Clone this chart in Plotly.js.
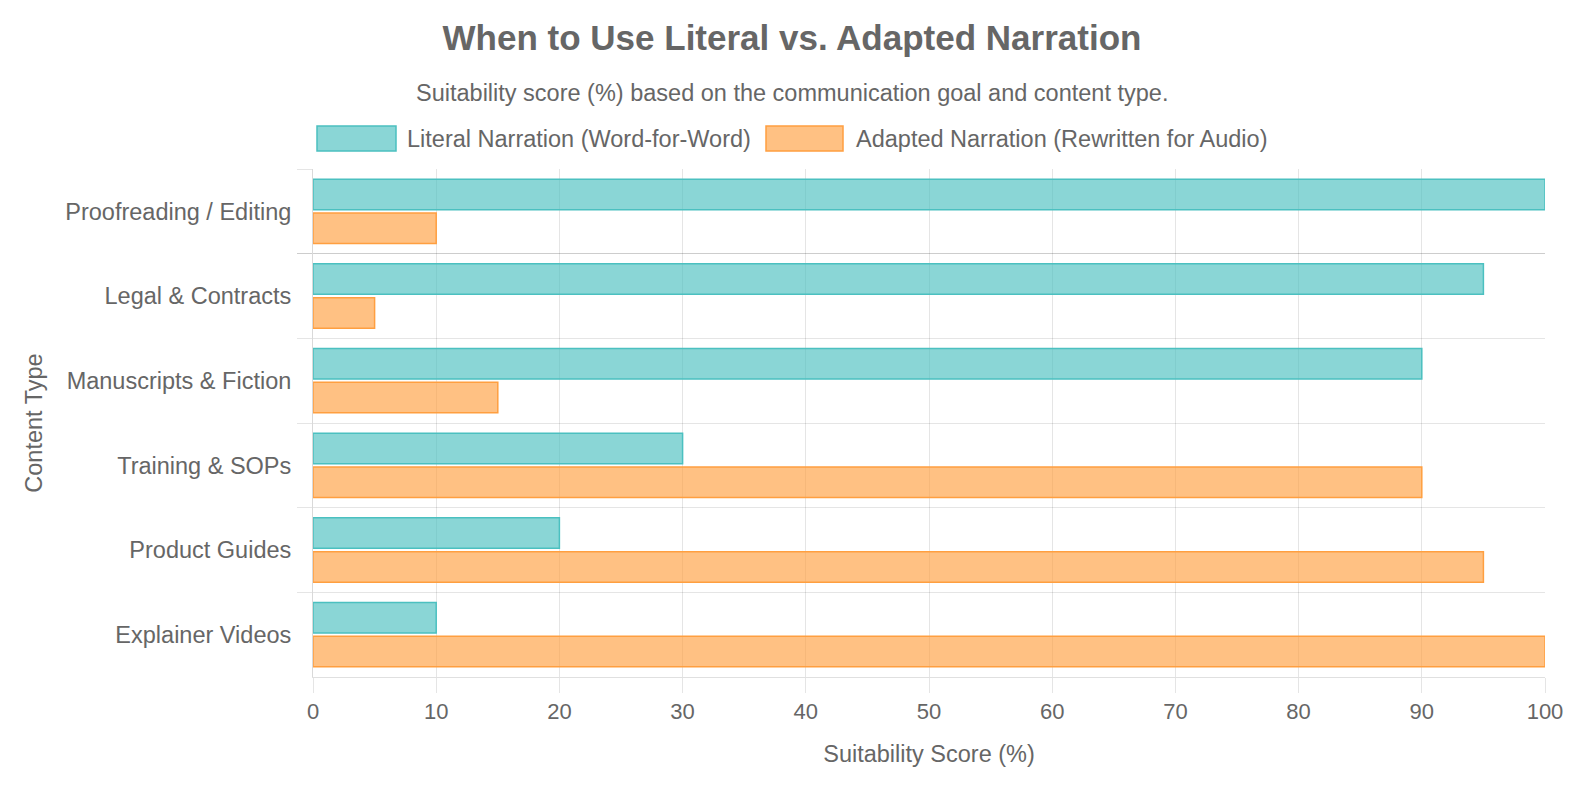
<!DOCTYPE html>
<html>
<head>
<meta charset="utf-8">
<script src="https://cdn.plot.ly/plotly-3.0.1.min.js"></script>
<style>
  html, body { margin: 0; padding: 0; background: #fff; }
  #chart { width: 1594px; height: 800px; }
</style>
</head>
<body>
<div id="chart"></div>
<script>
var categories = [
    'Proofreading / Editing',
    'Legal & Contracts',
    'Manuscripts & Fiction',
    'Training & SOPs',
    'Product Guides',
    'Explainer Videos'
];
var literal_scores = [100, 95, 90, 30, 20, 10];
var adapted_scores = [10, 5, 15, 90, 95, 100];
var series_names = ['Literal Narration (Word-for-Word)', 'Adapted Narration (Rewritten for Audio)'];

var FONT = '"Liberation Sans", Arial, Helvetica, sans-serif';
var GREY = '#666';
var FS = 23.5;

// plot area in pixels, used to place the hand-made legend
var L = 313, R = 1545, T = 169, B = 677;
function px(x) { return (x - L) / (R - L); }
function py(y) { return (B - y) / (B - T); }

var literal = {
    type: 'bar',
    orientation: 'h',
    name: series_names[0],
    y: categories,
    x: literal_scores,
    marker: {color: 'rgba(75,192,192,0.65)', line: {color: 'rgb(75,192,192)', width: 1.5}},
    showlegend: false,
    hoverinfo: 'x+name'
};

var adapted = {
    type: 'bar',
    orientation: 'h',
    name: series_names[1],
    y: categories,
    x: adapted_scores,
    marker: {color: 'rgba(255,159,64,0.65)', line: {color: 'rgb(255,159,64)', width: 1.5}},
    showlegend: false,
    hoverinfo: 'x+name'
};

var layout = {
    width: 1594,
    height: 800,
    paper_bgcolor: '#fff',
    plot_bgcolor: '#fff',
    font: {family: FONT, color: GREY, size: FS},
    margin: {l: L, r: 1594 - R, t: T, b: 800 - B, pad: 0},
    barmode: 'group',
    bargap: 0.2,
    bargroupgap: 0.1,
    title: {
        text: '<b>When to Use Literal vs. Adapted Narration</b>',
        font: {family: FONT, size: 35, color: GREY},
        xref: 'container', x: 792 / 1594, xanchor: 'center',
        yref: 'container', y: 1 - 38 / 800, yanchor: 'middle'
    },
    xaxis: {
        range: [0, 100],
        dtick: 10,
        showgrid: true,
        gridcolor: 'rgba(0,0,0,0.1)',
        gridwidth: 1,
        zeroline: false,
        showline: true,
        linecolor: 'rgba(0,0,0,0.12)',
        ticks: 'outside',
        ticklen: 15,
        tickcolor: 'rgba(0,0,0,0.1)',
        tickfont: {size: 22, color: GREY},
        fixedrange: true,
        title: {text: 'Suitability Score (%)', font: {size: FS, color: GREY}, standoff: 22}
    },
    yaxis: {
        type: 'category',
        autorange: 'reversed',
        tickson: 'boundaries',
        showgrid: true,
        gridcolor: 'rgba(0,0,0,0.1)',
        gridwidth: 1,
        showline: true,
        linecolor: 'rgba(0,0,0,0.15)',
        ticks: 'outside',
        ticklen: 15,
        tickcolor: 'rgba(0,0,0,0.1)',
        ticklabelstandoff: 16,
        tickfont: {size: FS, color: GREY},
        fixedrange: true,
        title: {text: 'Content Type', font: {size: FS, color: GREY}, standoff: 16}
    },
    shapes: [
        {type: 'rect', xref: 'paper', yref: 'paper',
         x0: px(317), x1: px(396), y0: py(151), y1: py(126),
         fillcolor: 'rgba(75,192,192,0.65)', line: {color: 'rgb(75,192,192)', width: 1.5}},
        {type: 'rect', xref: 'paper', yref: 'paper',
         x0: px(766), x1: px(843), y0: py(151), y1: py(126),
         fillcolor: 'rgba(255,159,64,0.65)', line: {color: 'rgb(255,159,64)', width: 1.5}}
    ],
    annotations: [
        {text: 'Suitability score (%) based on the communication goal and content type.',
         xref: 'paper', yref: 'paper', x: px(792), y: py(93),
         xanchor: 'center', yanchor: 'middle', showarrow: false,
         font: {size: FS, color: GREY}},
        {text: series_names[0], xref: 'paper', yref: 'paper', x: px(405), y: py(138.5),
         xanchor: 'left', yanchor: 'middle', showarrow: false, font: {size: FS, color: GREY}},
        {text: series_names[1], xref: 'paper', yref: 'paper', x: px(854), y: py(138.5),
         xanchor: 'left', yanchor: 'middle', showarrow: false, font: {size: FS, color: GREY}}
    ]
};

Plotly.newPlot('chart', [literal, adapted], layout, {displayModeBar: false, responsive: false});
</script>
</body>
</html>
